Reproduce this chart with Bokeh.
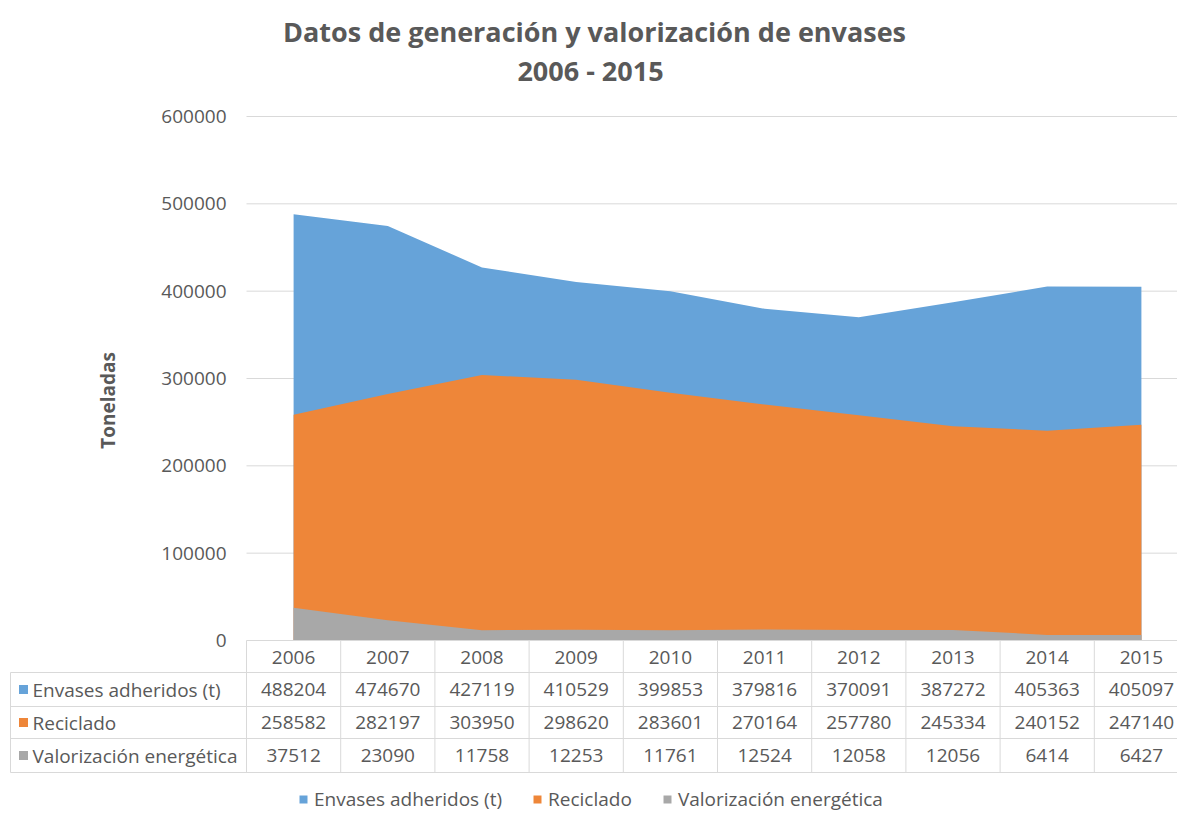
import math
from bokeh.plotting import figure
from bokeh.models import Range1d, Legend, LegendItem
from bokeh.embed import file_html
from bokeh.resources import INLINE
from bokeh.core.properties import value

# ---------------- data ----------------
years = ["2006", "2007", "2008", "2009", "2010", "2011", "2012", "2013", "2014", "2015"]
envases = [488204, 474670, 427119, 410529, 399853, 379816, 370091, 387272, 405363, 405097]
reciclado = [258582, 282197, 303950, 298620, 283601, 270164, 257780, 245334, 240152, 247140]
valorizacion = [37512, 23090, 11758, 12253, 11761, 12524, 12058, 12056, 6414, 6427]
series_names = ["Envases adheridos (t)", "Reciclado", "Valorización energética"]
series_values = [envases, reciclado, valorizacion]
colors = ["#66A3D9", "#EE8639", "#A8A8A8"]
y_ticks = [0, 100000, 200000, 300000, 400000, 500000, 600000]
title_line1 = "Datos de generación y valorización de envases"
title_line2 = "2006 - 2015"
y_label = "Toneladas"

# ---------------- layout constants (page pixels) ----------------
FONT = "Open Sans"
GREY = "#595959"
LINE = "#D9D9D9"
W, H = 1177, 814
COL_W = 94.2          # px per category column
CAT_LEFT = 246        # px where first category column starts
ZERO_PY = 640         # px of value 0
TOP_PY = 116          # px of value 600000
Y_MAX = 600000
UNITS_PER_PX = Y_MAX / (ZERO_PY - TOP_PY)

x_start = -0.5 - CAT_LEFT / COL_W
x_end = x_start + W / COL_W


def gx(px):
    return x_start + px / COL_W


def gy(py):
    return (ZERO_PY - py) * UNITS_PER_PX


p = figure(width=W, height=H, output_backend="svg", toolbar_location=None,
           x_range=Range1d(x_start, x_end), y_range=Range1d(gy(H), gy(0)),
           x_axis_location=None, y_axis_location=None,
           min_border_left=0, min_border_right=0, min_border_top=0, min_border_bottom=0)
p.outline_line_color = None
p.grid.visible = False

idx = list(range(len(years)))
n = len(idx)
col_edges = [k - 0.5 for k in range(n + 1)]

# ---- gridlines ----
grid_ys = [t for t in y_ticks if t != 0]
p.segment(x0=[-0.5] * len(grid_ys), y0=grid_ys, x1=[x_end] * len(grid_ys), y1=grid_ys,
          line_color=LINE, line_width=1)

# ---- areas (overlapping, drawn back to front) ----
area_renderers = []
for name, vals, c in zip(series_names, series_values, colors):
    r = p.varea(x=idx, y1=[0] * n, y2=vals, fill_color=c, fill_alpha=1.0)
    area_renderers.append(r)

# ---- y tick labels ----
p.text(x=[gx(226)] * len(y_ticks), y=y_ticks, text=[str(t) for t in y_ticks],
       text_font=value(FONT), text_font_size="19px", text_color=GREY,
       text_align="right", text_baseline="middle")

# ---- y axis title ----
p.text(x=[gx(107)], y=[gy(400)], text=[y_label], angle=math.pi / 2,
       text_font=value(FONT), text_font_size="19px", text_font_style="bold",
       text_color=GREY, text_align="center", text_baseline="middle")

# ---- chart title ----
p.text(x=[gx(594), gx(590)], y=[gy(31), gy(70)], text=[title_line1, title_line2],
       text_font=value(FONT), text_font_size="27px", text_font_style="bold",
       text_color=GREY, text_align="center", text_baseline="middle")

# ---- data table ----
row_lines_py = [672, 706, 738, 772]
row_centers_py = [689, 722, 755]
header_py = 657
tbl_left = gx(10)

p.segment(x0=[-0.5], y0=[0], x1=[x_end], y1=[0], line_color=LINE, line_width=1)
p.segment(x0=[tbl_left] * len(row_lines_py), y0=[gy(v) for v in row_lines_py],
          x1=[x_end] * len(row_lines_py), y1=[gy(v) for v in row_lines_py],
          line_color=LINE, line_width=1)
p.segment(x0=col_edges, y0=[0] * len(col_edges), x1=col_edges, y1=[gy(772)] * len(col_edges),
          line_color=LINE, line_width=1)
p.segment(x0=[tbl_left], y0=[gy(672)], x1=[tbl_left], y1=[gy(772)], line_color=LINE, line_width=1)

p.text(x=idx, y=[gy(header_py)] * n, text=years, text_font=value(FONT),
       text_font_size="19px", text_color=GREY, text_align="center", text_baseline="middle")

for r, (name, vals, c) in enumerate(zip(series_names, series_values, colors)):
    yc = gy(row_centers_py[r])
    p.scatter(x=[gx(23)], y=[yc], marker="square", size=9, fill_color=c, line_color=None)
    p.text(x=[gx(32)], y=[yc], text=[name], text_font=value(FONT),
           text_font_size="19px", text_color=GREY, text_align="left", text_baseline="middle")
    p.text(x=idx, y=[yc] * n, text=[str(v) for v in vals], text_font=value(FONT),
           text_font_size="19px", text_color=GREY, text_align="center", text_baseline="middle")

# ---- legend ----
items = [LegendItem(label=name, renderers=[r]) for name, r in zip(series_names, area_renderers)]
leg = Legend(items=items, orientation="horizontal", location=(298, 2),
             glyph_width=10, glyph_height=10, label_standoff=6, spacing=30,
             padding=0, margin=0, border_line_color=None, background_fill_alpha=0,
             label_text_font=FONT, label_text_font_size="19px", label_text_color=GREY,
             label_height=20)
p.add_layout(leg)

open("out.html", "w").write(file_html(p, INLINE))
